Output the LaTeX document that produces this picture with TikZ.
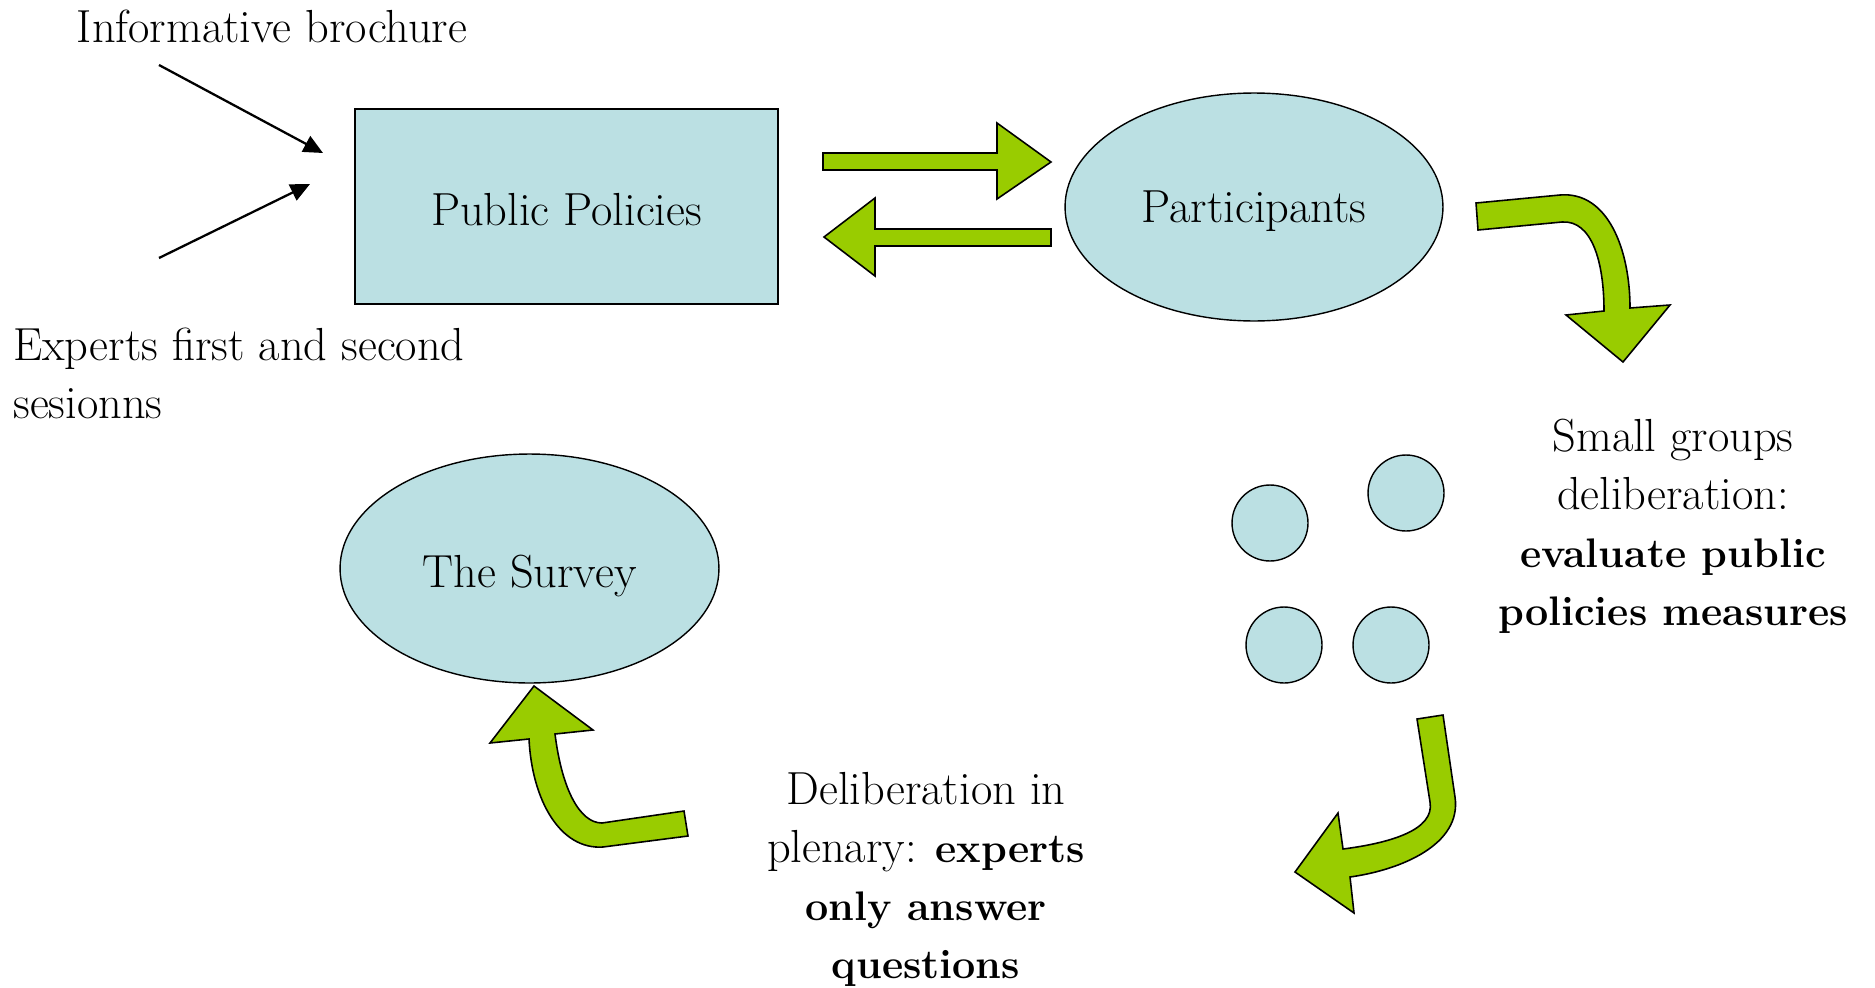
\documentclass[tikz,border=0pt]{standalone}
\usetikzlibrary{shapes.geometric,arrows.meta}
\definecolor{boxfill}{HTML}{BBE0E3}
\definecolor{arrowgreen}{HTML}{99CC00}
\newcommand{\boldpart}[1]{{\fontsize{23.5}{33}\selectfont\bfseries #1}}
\tikzset{
  txt/.style={font=\fontsize{26.4}{33}\selectfont, inner sep=0pt},
  shapebox/.style={draw=black, line width=0.8pt, fill=boxfill},
  greenarrow/.style={draw=black, line width=0.9pt, fill=arrowgreen, line join=miter},
  blackarrow/.style={draw=black, line width=1.3pt, -{Triangle[length=11pt,width=10pt]}},
}
\begin{document}
\begin{tikzpicture}[x=0.02cm,y=-0.02cm]
\useasboundingbox (0,0) rectangle (1875,987);

% main shapes
\node[shapebox, rectangle, minimum width=8.46cm, minimum height=3.9cm, inner sep=0pt] (pp) at (566.5,206.5) {};
\node[txt] at ([yshift=-1.5pt]pp.center) {Public Policies};
\node[shapebox, ellipse, minimum width=7.56cm, minimum height=4.56cm, inner sep=0pt] (part) at (1254,207) {};
\node[txt] at ([yshift=-2.5pt]part.center) {Participants};
\node[shapebox, ellipse, minimum width=7.58cm, minimum height=4.58cm, inner sep=0pt] (survey) at (529.5,568.5) {};
\node[txt] at ([yshift=-4pt]survey.center) {The Survey};

% small group circles
\node[shapebox, circle, minimum size=1.52cm, inner sep=0pt] (c1) at (1270,523) {};
\node[shapebox, circle, minimum size=1.52cm, inner sep=0pt] (c2) at (1406,493) {};
\node[shapebox, circle, minimum size=1.52cm, inner sep=0pt] (c3) at (1284,645) {};
\node[shapebox, circle, minimum size=1.52cm, inner sep=0pt] (c4) at (1391,645) {};

% texts
\node[txt] (brochure) at (272,26) {Informative brochure};
\node[txt, anchor=west, align=left] (experts) at (13,373) {Experts first and second\\sesionns};
\node[txt, align=center] (small) at (1673,526) {Small groups\\deliberation:\\\boldpart{evaluate public}\\\boldpart{policies measures}};
\node[txt, align=center] (plenary) at (926,879) {Deliberation in\\plenary: \boldpart{experts}\\\boldpart{only answer}\\\boldpart{questions}};

% black arrows
\coordinate (b1s) at (159,65);
\coordinate (b1e) at (323,153);
\coordinate (b2s) at (159,258);
\coordinate (b2e) at (310,184);
\draw[blackarrow] (b1s) -- (b1e);
\draw[blackarrow] (b2s) -- (b2e);

% straight green arrows
\draw[greenarrow] (823,153) -- (997,153) -- (997,123) -- (1051,162) -- (997,199) -- (997,170) -- (823,170) -- cycle;
\draw[greenarrow] (1051,229) -- (875,229) -- (875,198) -- (824,237) -- (875,276) -- (875,246) -- (1051,246) -- cycle;

% curved green arrows
\draw[greenarrow] (1476,203) -- (1560,195) .. controls (1608,191) and (1630,250) .. (1630,308)
  -- (1670,305) -- (1623,362) -- (1566,315) -- (1604,311)
  .. controls (1604,262) and (1592,220) .. (1562,222) -- (1478,230) -- cycle;
\draw[greenarrow] (1417,719) -- (1443,715) -- (1455,797) .. controls (1462,845) and (1400,870) .. (1350,877)
  -- (1354,913) -- (1295,872) -- (1338,813) -- (1343,849)
  .. controls (1390,843) and (1435,830) .. (1430,802) -- cycle;
\draw[greenarrow] (534,686) -- (593,730) -- (555,734) .. controls (562,790) and (580,823) .. (602,823)
  -- (684,811) -- (688,836) -- (603,847) .. controls (560,850) and (532,800) .. (529,739)
  -- (490,743) -- cycle;
\end{tikzpicture}
\end{document}
